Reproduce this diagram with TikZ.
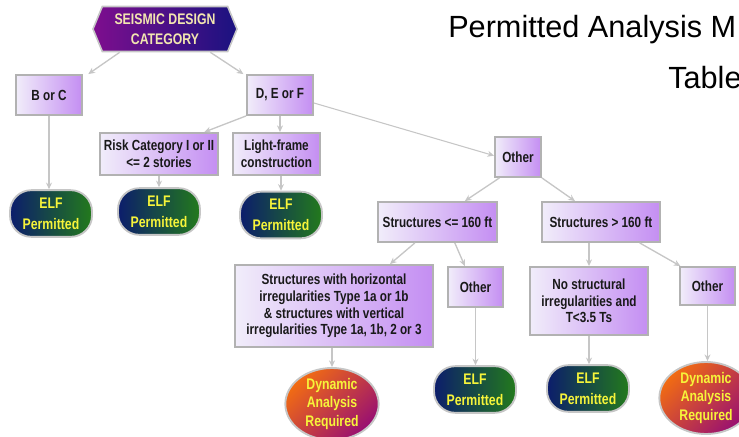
\documentclass[tikz,border=0pt]{standalone}
\usepackage{fontspec}
\newfontfamily\diafont{Liberation Sans}[FakeStretch=0.8]
\newfontfamily\titlefont{Liberation Sans}
\usetikzlibrary{arrows.meta,shapes.symbols,shapes.geometric}
\definecolor{boxlite}{HTML}{F1EDFA}
\definecolor{boxviolet}{HTML}{C48EF2}
\definecolor{boxedge}{HTML}{B2B2B2}
\definecolor{elfnavy}{HTML}{0C1D6C}
\definecolor{elfgreen}{HTML}{237A1C}
\definecolor{dynorange}{HTML}{F26C12}
\definecolor{dynmagenta}{HTML}{980F72}
\definecolor{catpurple}{HTML}{7E0E8E}
\definecolor{catnavy}{HTML}{1A1280}
\definecolor{cattext}{HTML}{F2E6B0}
\definecolor{flowgray}{HTML}{C6C6C6}
\definecolor{yellowtxt}{HTML}{F6F43A}

\begin{document}
\begin{tikzpicture}[x=0.75pt, y=-0.75pt,
  critbox/.style={draw=boxedge, line width=1.4pt, left color=boxlite, right color=boxviolet,
    align=center, inner sep=0pt, text=black!90,
    font=\diafont\bfseries\fontsize{11}{12.5}\selectfont},
  elfpill/.style={draw=flowgray, line width=1.4pt, rounded corners=16pt,
    left color=elfnavy, right color=elfgreen, align=center, inner sep=0pt,
    minimum width=61.5pt, minimum height=35pt, text=yellowtxt,
    font=\diafont\bfseries\fontsize{11.5}{16}\selectfont},
  dynoval/.style={ellipse, draw=flowgray, line width=1.4pt,
    left color=dynorange, right color=dynmagenta, shading angle=45,
    align=center, inner sep=0pt, minimum width=70pt, minimum height=54pt, text=yellowtxt,
    font=\diafont\bfseries\fontsize{11.5}{13.7}\selectfont},
  flowarrow/.style={draw=flowgray, line width=1pt, -{Stealth[length=5pt,width=4.5pt]}}]

  \useasboundingbox (0,0) rectangle (739,436);
  \clip (0,0) rectangle (739,436);

  % title (runs off the right edge)
  \node[anchor=base west, inner sep=0pt, font=\titlefont\fontsize{23}{23}\selectfont] (ttlone) at (448,37) {Permitted Analysis M};
  \node[anchor=base west, inner sep=0pt, font=\titlefont\fontsize{23}{23}\selectfont] (ttltwo) at (668,88) {Table};

  % root: seismic design category
  \node[signal, signal to=west and east, signal pointer angle=135, draw=flowgray, line width=1.2pt,
        left color=catpurple, right color=catnavy, text=cattext, align=center, inner sep=0pt,
        minimum width=108pt, minimum height=33.75pt,
        font=\diafont\bfseries\fontsize{11.5}{15}\selectfont] (cat) at (165,29) {SEISMIC DESIGN\\CATEGORY};

  % second level
  \node[critbox, minimum width=49.5pt, minimum height=30pt] (bc) at (49,95) {B or C};
  \node[critbox, minimum width=49.5pt, minimum height=30pt] (def) at (280,95) {D, E or F};

  % under D, E or F
  \node[critbox, minimum width=88.5pt, minimum height=31.5pt] (risk) at (159,154) {Risk Category I or II\\<= 2 stories};
  \node[critbox, minimum width=65.25pt, minimum height=31.5pt] (light) at (276.5,154) {Light-frame\\construction};
  \node[critbox, minimum width=34.5pt, minimum height=30pt] (othA) at (518,157) {Other};

  \node[elfpill] (elfA) at (51,213.5) {ELF\\Permitted};
  \node[elfpill] (elfB) at (159,211.5) {ELF\\Permitted};
  \node[elfpill] (elfC) at (281,215) {ELF\\Permitted};

  % height split
  \node[critbox, minimum width=89.25pt, minimum height=30pt] (lowht) at (437.5,222) {Structures <= 160 ft};
  \node[critbox, minimum width=88.5pt, minimum height=30pt] (highht) at (601,222) {Structures > 160 ft};

  \node[critbox, minimum width=148.5pt, minimum height=61.5pt] (irreg) at (334,306)
        {Structures with horizontal\\irregularities Type 1a or 1b\\\& structures with vertical\\irregularities Type 1a, 1b, 2 or 3};
  \node[critbox, minimum width=41.25pt, minimum height=30pt] (othB) at (475.5,287) {Other};
  \node[critbox, minimum width=88.5pt, minimum height=51pt] (noirr) at (589,301) {No structural\\irregularities and\\T<3.5 Ts};
  \node[critbox, minimum width=41.25pt, minimum height=28.5pt] (othC) at (707.5,286) {Other};

  % outcomes
  \node[dynoval] (dynA) at (332,404) {Dynamic\\Analysis\\Required};
  \node[elfpill] (elfD) at (475,389.5) {ELF\\Permitted};
  \node[elfpill] (elfE) at (588,388.5) {ELF\\Permitted};
  \node[dynoval] (dynB) at (706,398) {Dynamic\\Analysis\\Required};

  % connectors
  \draw[flowarrow] ([xshift=-34pt]cat.south) -- ([xshift=4pt]bc.north east);
  \draw[flowarrow] ([xshift=34pt]cat.south) -- ([xshift=-2pt]def.north west);
  \draw[flowarrow] (bc.south) -- (bc.south |- elfA.north);
  \draw[flowarrow] (def.south west) -- ([xshift=-11pt]risk.north east);
  \draw[flowarrow] (def.south) -- (def.south |- light.north);
  \draw[flowarrow, line width=0.8pt] ([yshift=-6pt]def.east) -- ([yshift=1pt]othA.west);
  \draw[flowarrow] (risk.south) -- (elfB.north);
  \draw[flowarrow] (elfC.north |- light.south) -- (elfC.north);
  \draw[flowarrow] ([xshift=4pt]othA.south west) -- ([xshift=20.5pt]lowht.north);
  \draw[flowarrow] (othA.south east) -- ([xshift=-19.5pt]highht.north);
  \draw[flowarrow] ([xshift=-17pt]lowht.south) -- ([xshift=42pt]irreg.north);
  \draw[flowarrow] ([xshift=13pt]lowht.south) -- ([xshift=-8pt]othB.north);
  \draw[flowarrow] (noirr.north |- highht.south) -- (noirr.north);
  \draw[flowarrow] ([xshift=29pt]highht.south) -- ([xshift=1pt]othC.north west);
  \draw[flowarrow] (irreg.south -| dynA.north) -- (dynA.north);
  \draw[flowarrow] (othB.south) -- (othB.south |- elfD.north);
  \draw[flowarrow] (noirr.south) -- (noirr.south |- elfE.north);
  \draw[flowarrow] (othC.south) -- (othC.south |- dynB.north);
\end{tikzpicture}
\end{document}
